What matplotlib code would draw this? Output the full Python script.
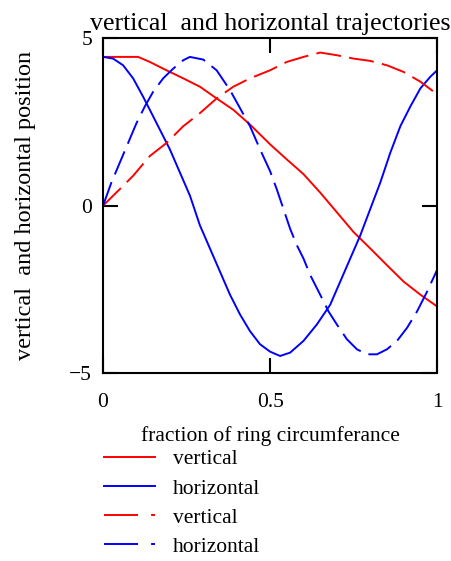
import matplotlib
matplotlib.use('Agg')
import matplotlib.pyplot as plt
from matplotlib.lines import Line2D

plt.rcParams['font.family'] = ['Liberation Serif', 'DejaVu Serif']
plt.rcParams['font.size'] = 15.5
plt.rcParams['lines.scale_dashes'] = False

# values
x_vert = [0, 0.105, 0.14, 0.19, 0.24, 0.29, 0.34, 0.39, 0.44, 0.50,
          0.55, 0.60, 0.65, 0.70, 0.75, 0.80, 0.85, 0.90, 0.95, 1.0]
y_vert = [4.44, 4.44, 4.29, 4.04, 3.80, 3.55, 3.20, 2.86, 2.42, 1.83,
          1.38, 0.94, 0.39, -0.20, -0.79, -1.28, -1.78, -2.27, -2.66, -3.01]

x_horiz = [0, 0.03, 0.06, 0.09, 0.12, 0.14, 0.17, 0.20, 0.23, 0.26, 0.29, 0.32, 0.35,
           0.38, 0.41, 0.44, 0.47, 0.50, 0.53, 0.56, 0.60, 0.64, 0.68, 0.71, 0.74,
           0.77, 0.80, 0.83, 0.86, 0.89, 0.92, 0.95, 0.98, 1.0]
y_horiz = [4.44, 4.39, 4.19, 3.80, 3.25, 2.86, 2.27, 1.68, 0.99, 0.30, -0.59, -1.28, -1.97,
           -2.66, -3.25, -3.75, -4.14, -4.36, -4.49, -4.39, -4.04, -3.55, -2.96, -2.27, -1.58,
           -0.89, -0.10, 0.69, 1.58, 2.37, 2.96, 3.50, 3.85, 4.04]

x_vert2 = [0, 0.05, 0.09, 0.14, 0.19, 0.24, 0.29, 0.34, 0.39, 0.44, 0.50,
           0.55, 0.60, 0.65, 0.70, 0.75, 0.80, 0.85, 0.90, 0.95, 0.99, 1.0]
y_vert2 = [0, 0.49, 0.89, 1.48, 1.87, 2.37, 2.76, 3.20, 3.55, 3.80, 4.04,
           4.29, 4.44, 4.57, 4.49, 4.39, 4.32, 4.19, 3.99, 3.70, 3.40, 3.33]

x_horiz2 = [0, 0.025, 0.05, 0.075, 0.10, 0.125, 0.15, 0.18, 0.21, 0.24, 0.26, 0.30, 0.34,
            0.38, 0.41, 0.44, 0.47, 0.50, 0.52, 0.54, 0.56, 0.58, 0.60, 0.62, 0.65, 0.675,
            0.70, 0.73, 0.76, 0.79, 0.82, 0.85, 0.88, 0.91, 0.94, 0.97, 1.0]
y_horiz2 = [0, 0.69, 1.28, 1.87, 2.46, 2.96, 3.40, 3.80, 4.09, 4.34, 4.44, 4.36, 4.04,
            3.45, 2.91, 2.37, 1.68, 1.03, 0.49, -0.10, -0.69, -1.18, -1.58, -2.07, -2.66, -3.16,
            -3.55, -3.99, -4.29, -4.44, -4.44, -4.29, -4.04, -3.65, -3.16, -2.57, -1.92]

labels = ['vertical', 'horizontal', 'vertical', 'horizontal']

fig = plt.figure(figsize=(4.52, 5.61), dpi=100)
ax = fig.add_axes([0.228, 0.335, 0.739, 0.597])

lw = 1.4
dash = (18, 6)
ax.plot(x_vert, y_vert, color='red', lw=lw)
ax.plot(x_horiz, y_horiz, color='blue', lw=lw)
ax.plot(x_vert2, y_vert2, color='red', lw=lw, dashes=dash)
ax.plot(x_horiz2, y_horiz2, color='blue', lw=lw, dashes=dash)

ax.set_xlim(0, 1)
ax.set_ylim(-5, 5)
ax.set_xticks([0, 0.5, 1])
ax.set_xticklabels(['0', '0.5', '1'])
ax.set_yticks([-5, 0, 5])
ax.set_yticklabels(['\u22125', '0', '5'])
ax.tick_params(direction='in', length=11, width=1.5, top=True, right=True)
ax.tick_params(axis='x', pad=14.5)
ax.tick_params(axis='y', pad=8)
for s in ax.spines.values():
    s.set_linewidth(1.5)

ax.set_title('vertical  and horizontal trajectories', pad=6)
ax.set_xlabel('fraction of ring circumferance', labelpad=10)
ax.set_ylabel('vertical  and horizontal position', fontsize=17.5, labelpad=24)

handles = [
    Line2D([], [], color='red', lw=lw),
    Line2D([], [], color='blue', lw=lw),
    Line2D([], [], color='red', lw=lw, dashes=(24.5, 9.4)),
    Line2D([], [], color='blue', lw=lw, dashes=(24.5, 9.4)),
]
fig.legend(handles, labels, loc='upper left', bbox_to_anchor=(0.23, 0.199),
           frameon=False, handlelength=2.35, handletextpad=0.85, labelspacing=0.42,
           borderpad=0, borderaxespad=0)

fig.savefig('out.png', dpi=100)
